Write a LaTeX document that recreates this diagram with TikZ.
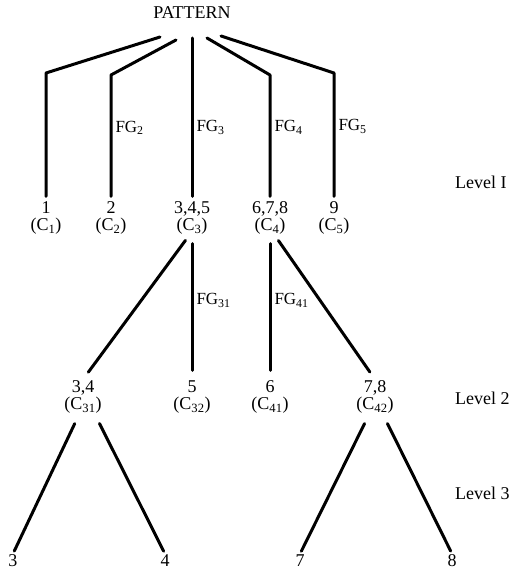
\documentclass[tikz,border=0pt]{standalone}
\usepackage{fontspec}
\setmainfont{Liberation Serif}
\usetikzlibrary{positioning}

\begin{document}
\begin{tikzpicture}[
  x=1pt, y=-1pt,
  lbl/.style={align=center, inner sep=1pt, font=\fontsize{18}{17}\selectfont},
  fg/.style={inner sep=3pt, font=\fontsize{17}{17}\selectfont},
  lev/.style={anchor=west, inner sep=0pt, font=\fontsize{18}{18}\selectfont},
  br/.style={line width=3pt, line cap=round, line join=round}
]
\useasboundingbox (0,0) rectangle (524,572);

%% Root
\node[lbl] (pattern) at (192,13) {PATTERN};

%% Level 1 clusters
\node[lbl] (c1) at (46,218)  {1\\(C\textsubscript{1})};
\node[lbl] (c2) at (111,218) {2\\(C\textsubscript{2})};
\node[lbl] (c3) at (192,218) {3,4,5\\(C\textsubscript{3})};
\node[lbl] (c4) at (270,218) {6,7,8\\(C\textsubscript{4})};
\node[lbl] (c5) at (334,218) {9\\(C\textsubscript{5})};

%% Start and bend points below the root
\coordinate (s1) at (160,37);  \coordinate (k1) at (46,73);
\coordinate (s2) at (176,40);  \coordinate (k2) at (111,75);
\coordinate (s3) at (192,38);
\coordinate (s4) at (207,38);  \coordinate (k4) at (270,75);
\coordinate (s5) at (221,36);  \coordinate (k5) at (334,73);

\draw[br, shorten >=4pt] (s1) -- (k1) -- (c1);
\draw[br, shorten >=4pt] (s2) -- (k2) -- node[fg, right, pos=0.42] (fg2) {FG\textsubscript{2}} (c2);
\draw[br, shorten >=4pt] (s3) -- node[fg, right, pos=0.55] (fg3) {FG\textsubscript{3}} (c3);
\draw[br, shorten >=4pt] (s4) -- (k4) -- node[fg, right, pos=0.42] (fg4) {FG\textsubscript{4}} (c4);
\draw[br, shorten >=4pt] (s5) -- (k5) -- node[fg, right, pos=0.42] (fg5) {FG\textsubscript{5}} (c5);

%% Level 2 clusters
\node[lbl] (c31) at (83,397)  {3,4\\(C\textsubscript{31})};
\node[lbl] (c32) at (192,397) {5\\(C\textsubscript{32})};
\node[lbl] (c41) at (270,397) {6\\(C\textsubscript{41})};
\node[lbl] (c42) at (375,397) {7,8\\(C\textsubscript{42})};

\draw[br, shorten <=6pt, shorten >=9pt] ([xshift=-3pt]c3.south) -- (c31.north);
\draw[br, shorten <=8pt, shorten >=9pt] (c3) -- node[fg, right, pos=0.45] (fg31) {FG\textsubscript{31}} (c32);
\draw[br, shorten <=8pt, shorten >=9pt] (c4) -- node[fg, right, pos=0.45] (fg41) {FG\textsubscript{41}} (c41);
\draw[br, shorten <=6pt, shorten >=9pt] ([xshift=5pt]c4.south) -- (c42.north);

%% Level 3 leaves
\node[lbl] (l3) at (13,561)  {3};
\node[lbl] (l4) at (165,561) {4};
\node[lbl] (l7) at (300,561) {7};
\node[lbl] (l8) at (452,561) {8};

\draw[br, shorten <=10pt, shorten >=3pt] ([xshift=-4pt]c31.south) -- (l3.north);
\draw[br, shorten <=10pt, shorten >=3pt] ([xshift=12pt]c31.south) -- (l4.north);
\draw[br, shorten <=10pt, shorten >=3pt] ([xshift=-6pt]c42.south) -- (l7.north);
\draw[br, shorten <=10pt, shorten >=3pt] ([xshift=8pt]c42.south) -- (l8.north);

%% Level captions
\node[lev] (lev1) at (455,182) {Level I};
\node[lev] (lev2) at (455,398) {Level 2};
\node[lev] (lev3) at (455,493) {Level 3};
\end{tikzpicture}
\end{document}
